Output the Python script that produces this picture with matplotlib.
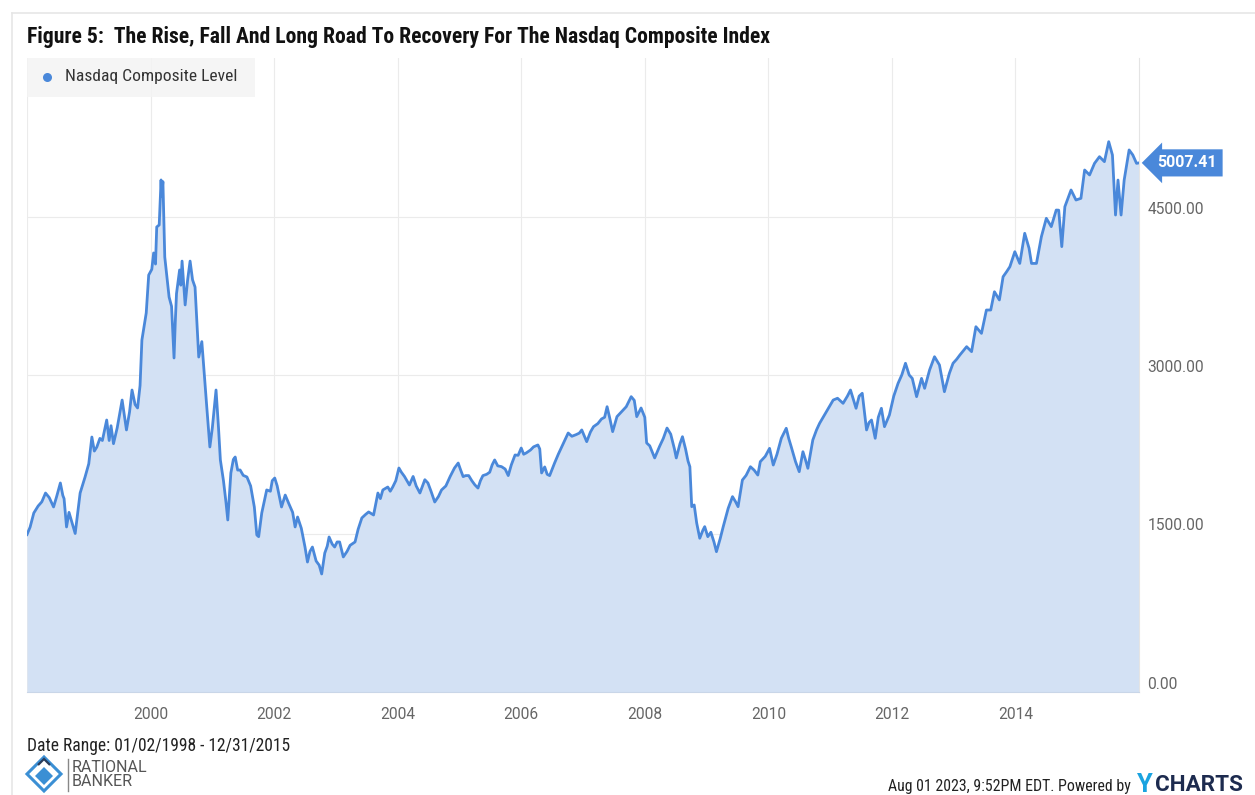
import matplotlib
matplotlib.use("Agg")
import matplotlib.pyplot as plt
from matplotlib import font_manager as fm
from matplotlib.font_manager import FontProperties
from matplotlib.patches import Polygon, Rectangle
from matplotlib.lines import Line2D

# === DATA ===
years = [
    1998.00, 1998.05, 1998.11, 1998.18, 1998.24, 1998.30, 1998.36, 1998.43, 1998.48, 1998.54,
    1998.58, 1998.60, 1998.64, 1998.68, 1998.72, 1998.78, 1998.86, 1998.94, 1999.00, 1999.05,
    1999.09, 1999.13, 1999.18, 1999.22, 1999.29, 1999.33, 1999.36, 1999.40, 1999.46, 1999.54,
    1999.61, 1999.66, 1999.70, 1999.75, 1999.79, 1999.83, 1999.86, 1999.93, 1999.97, 2000.02,
    2000.05, 2000.08, 2000.10, 2000.14, 2000.17, 2000.18, 2000.20, 2000.23, 2000.27, 2000.30,
    2000.34, 2000.38, 2000.40, 2000.42, 2000.47, 2000.49, 2000.51, 2000.56, 2000.60, 2000.64,
    2000.68, 2000.72, 2000.78, 2000.83, 2000.87, 2000.91, 2000.96, 2001.00, 2001.06, 2001.10,
    2001.13, 2001.18, 2001.22, 2001.25, 2001.30, 2001.34, 2001.37, 2001.41, 2001.45, 2001.50,
    2001.56, 2001.62, 2001.68, 2001.72, 2001.75, 2001.80, 2001.88, 2001.94, 2001.97, 2002.01,
    2002.05, 2002.12, 2002.18, 2002.24, 2002.30, 2002.34, 2002.38, 2002.44, 2002.50, 2002.54,
    2002.58, 2002.62, 2002.68, 2002.73, 2002.77, 2002.82, 2002.86, 2002.89, 2002.94, 2002.98,
    2003.02, 2003.06, 2003.12, 2003.18, 2003.23, 2003.31, 2003.36, 2003.42, 2003.48, 2003.53,
    2003.61, 2003.68, 2003.72, 2003.76, 2003.84, 2003.88, 2003.92, 2003.97, 2004.02, 2004.06,
    2004.11, 2004.19, 2004.25, 2004.30, 2004.36, 2004.44, 2004.49, 2004.54, 2004.60, 2004.66,
    2004.71, 2004.78, 2004.85, 2004.92, 2004.98, 2005.02, 2005.06, 2005.10, 2005.15, 2005.20,
    2005.25, 2005.30, 2005.34, 2005.38, 2005.44, 2005.49, 2005.53, 2005.57, 2005.62, 2005.68,
    2005.74, 2005.79, 2005.84, 2005.90, 2005.95, 2006.00, 2006.04, 2006.08, 2006.15, 2006.20,
    2006.27, 2006.30, 2006.33, 2006.38, 2006.42, 2006.46, 2006.54, 2006.60, 2006.67, 2006.76,
    2006.82, 2006.89, 2006.94, 2006.98, 2007.06, 2007.12, 2007.17, 2007.24, 2007.30, 2007.35,
    2007.39, 2007.43, 2007.48, 2007.55, 2007.62, 2007.70, 2007.78, 2007.83, 2007.87, 2007.94,
    2008.00, 2008.03, 2008.08, 2008.16, 2008.24, 2008.30, 2008.36, 2008.42, 2008.48, 2008.51,
    2008.57, 2008.61, 2008.66, 2008.70, 2008.73, 2008.76, 2008.80, 2008.84, 2008.89, 2008.94,
    2008.97, 2009.02, 2009.07, 2009.12, 2009.16, 2009.22, 2009.27, 2009.35, 2009.42, 2009.47,
    2009.51, 2009.58, 2009.64, 2009.71, 2009.77, 2009.83, 2009.87, 2009.95, 2010.02, 2010.08,
    2010.14, 2010.21, 2010.29, 2010.33, 2010.37, 2010.44, 2010.50, 2010.56, 2010.60, 2010.64,
    2010.72, 2010.78, 2010.83, 2010.94, 2011.05, 2011.12, 2011.21, 2011.28, 2011.33, 2011.42,
    2011.47, 2011.52, 2011.59, 2011.63, 2011.67, 2011.73, 2011.78, 2011.83, 2011.88, 2011.96,
    2012.03, 2012.10, 2012.16, 2012.22, 2012.28, 2012.33, 2012.40, 2012.48, 2012.53, 2012.61,
    2012.69, 2012.77, 2012.85, 2012.93, 2012.99, 2013.05, 2013.10, 2013.21, 2013.29, 2013.36,
    2013.45, 2013.53, 2013.60, 2013.66, 2013.74, 2013.80, 2013.86, 2013.91, 2013.99, 2014.07,
    2014.15, 2014.22, 2014.26, 2014.34, 2014.42, 2014.50, 2014.58, 2014.66, 2014.70, 2014.75,
    2014.80, 2014.90, 2014.98, 2015.06, 2015.12, 2015.20, 2015.28, 2015.36, 2015.44, 2015.51,
    2015.57, 2015.62, 2015.66, 2015.71, 2015.76, 2015.84, 2015.90, 2015.96, 2016.00,
]
nasdaq = [
    1490, 1560, 1694, 1760, 1800, 1883, 1840, 1751, 1850, 1978,
    1860, 1830, 1562, 1700, 1620, 1500, 1883, 2035, 2160, 2413,
    2280, 2318, 2400, 2380, 2574, 2380, 2520, 2350, 2500, 2763,
    2480, 2650, 2858, 2720, 2688, 2900, 3331, 3587, 3946, 4000,
    4155, 4050, 4401, 4420, 4846, 4694, 4830, 4117, 3900, 3738,
    3650, 3161, 3500, 3770, 3994, 3850, 4078, 3663, 3900, 4078,
    3900, 3832, 3170, 3316, 3000, 2697, 2319, 2500, 2858, 2500,
    2196, 2000, 1800, 1628, 2073, 2200, 2224, 2100, 2101, 2050,
    2035, 1950, 1750, 1486, 1470, 1694, 1912, 1900, 2000, 2025,
    1950, 1751, 1864, 1780, 1700, 1562, 1656, 1550, 1372, 1230,
    1330, 1372, 1240, 1200, 1117, 1315, 1380, 1467, 1400, 1372,
    1420, 1420, 1278, 1330, 1388, 1420, 1540, 1647, 1680, 1704,
    1675, 1883, 1830, 1912, 1940, 1900, 1940, 2000, 2120, 2080,
    2040, 1959, 2040, 1950, 1883, 2009, 1978, 1900, 1798, 1850,
    1912, 1950, 2040, 2120, 2167, 2100, 2038, 2048, 2048, 2000,
    1960, 1930, 2000, 2048, 2060, 2080, 2150, 2196, 2140, 2133,
    2110, 2048, 2150, 2243, 2240, 2309, 2250, 2262, 2290, 2320,
    2338, 2300, 2073, 2130, 2060, 2048, 2167, 2250, 2338, 2451,
    2420, 2436, 2450, 2480, 2369, 2460, 2511, 2540, 2584, 2600,
    2700, 2600, 2464, 2606, 2650, 2700, 2795, 2760, 2606, 2688,
    2600, 2357, 2330, 2215, 2325, 2400, 2498, 2440, 2300, 2215,
    2350, 2416, 2300, 2186, 2132, 1754, 1770, 1600, 1455, 1530,
    1565, 1470, 1512, 1420, 1328, 1450, 1565, 1738, 1849, 1800,
    1754, 2006, 2050, 2132, 2100, 2053, 2180, 2230, 2306, 2148,
    2250, 2401, 2496, 2400, 2322, 2180, 2085, 2274, 2200, 2117,
    2385, 2480, 2543, 2653, 2763, 2780, 2732, 2800, 2858, 2685,
    2800, 2827, 2480, 2550, 2574, 2401, 2600, 2685, 2511, 2622,
    2800, 2921, 3000, 3111, 3000, 2968, 2795, 2968, 2874, 3047,
    3173, 3095, 2842, 3015, 3111, 3150, 3189, 3268, 3221, 3457,
    3394, 3615, 3615, 3788, 3710, 3930, 3980, 4025, 4167, 4056,
    4341, 4200, 4056, 4056, 4309, 4483, 4404, 4561, 4560, 4215,
    4593, 4751, 4656, 4672, 4940, 4893, 5003, 5066, 5019, 5208,
    5082, 4514, 4845, 4514, 4845, 5130, 5082, 5003, 5007.41,
]
year_ticks = [2000, 2002, 2004, 2006, 2008, 2010, 2012, 2014]
value_ticks = [0, 1500, 3000, 4500]

title = "Figure 5:  The Rise, Fall And Long Road To Recovery For The Nasdaq Composite Index"
series_name = "Nasdaq Composite Level"
date_range = "Date Range: 01/02/1998 - 12/31/2015"
footer = "Aug 01 2023, 9:52PM EDT. Powered by"

# === COLORES ===
line_color = "#4a88da"
fill_color = "#d3e1f4"
grid_color = "#ebebeb"
tick_color = "#666666"


# === FUENTES (se busca una variante condensada) ===
def pick_font(bold):
    prefs = ["robotocondensed", "liberationsansnarrow", "dejavusanscondensed", "roboto", "liberationsans"]
    files = [f.fname for f in fm.fontManager.ttflist]
    for key in prefs:
        for path in files:
            name = path.lower().replace("-", "").replace("_", "").replace(" ", "").split("/")[-1]
            if key not in name:
                continue
            if any(k in name for k in ["italic", "oblique", "light", "thin", "black", "medium", "semi", "extra"]):
                continue
            if bold != ("bold" in name):
                continue
            if key in ("roboto", "liberationsans") and ("condensed" in name or "narrow" in name or "mono" in name):
                continue
            return path
    return None


bold_path = pick_font(True)
reg_path = pick_font(False)


def fp(bold):
    path = bold_path if bold else reg_path
    if path:
        return FontProperties(fname=path)
    return FontProperties(family="DejaVu Sans", weight="bold" if bold else "normal")


W, H = 1255, 795
fig = plt.figure(figsize=(W / 100, H / 100), dpi=100)
fig.patch.set_facecolor("white")


def fx(x):
    return x / W


def fy(y):
    return 1 - y / H


renderer = fig.canvas.get_renderer()


def fit_text(x, y, s, width_px, bold=False, color="#222222", ha="left", size=12, props=None):
    t = fig.text(fx(x), fy(y), s, fontproperties=props if props is not None else fp(bold),
                 fontsize=size, color=color, ha=ha, va="center")
    w = t.get_window_extent(renderer).width
    t.set_fontsize(size * width_px / w)
    return t


# card border
fig.add_artist(Line2D([fx(12), fx(12)], [fy(13), 0], color="#e6e6e6", lw=1.2))
fig.add_artist(Line2D([fx(12), 1], [fy(13), fy(13)], color="#e6e6e6", lw=1.2))

# === EJES ===
ax = fig.add_axes([fx(27), fy(692), fx(1139) - fx(27), fy(58) - fy(692)])
ax.set_xlim(1998.0, 2016.0)
ax.set_ylim(0, 6000)
ax.fill_between(years, nasdaq, 0, color=fill_color, lw=0, zorder=1)
ax.plot(years, nasdaq, color=line_color, lw=2.0, zorder=3, solid_joinstyle="round")

tick_font = FontProperties(family="Roboto", size=11.2)
ax.set_xticks(year_ticks)
ax.set_xticklabels([str(y) for y in year_ticks], fontproperties=tick_font)
ax.set_yticks(value_ticks)
ax.set_yticklabels([f"{v:.2f}" for v in value_ticks], va="bottom", fontproperties=tick_font)
ax.yaxis.tick_right()
ax.tick_params(axis="both", length=0, colors=tick_color)
ax.tick_params(axis="x", pad=11)
ax.tick_params(axis="y", pad=6)
ax.grid(True, color=grid_color, lw=0.8, zorder=0)
ax.axvline(1998.0, color=grid_color, lw=0.8, zorder=0)
for side in ["top", "left"]:
    ax.spines[side].set_visible(False)
ax.spines["right"].set_color("#e4e4e4")
ax.spines["bottom"].set_color("#c9d6e8")
ax.set_axisbelow(True)

# last value label
ax.annotate(f"{nasdaq[-1]:.2f}", xy=(years[-1], nasdaq[-1]), xytext=(13, 0),
            textcoords="offset points", ha="left", va="center", color="white",
            fontproperties=FontProperties(family="Roboto", weight="bold", size=11.5),
            annotation_clip=False,
            bbox=dict(boxstyle="larrow,pad=0.38", fc=line_color, ec="none"))

# legend box
fig.add_artist(Rectangle((fx(27), fy(97)), fx(255) - fx(27), fy(58) - fy(97),
                         transform=fig.transFigure, fc="#f4f4f4", ec="none", alpha=0.85, zorder=5))
fig.add_artist(Line2D([fx(47)], [fy(77)], marker="o", markersize=6.5, color=line_color,
                      markeredgewidth=0, zorder=6))
leg = fit_text(65, 77, series_name, 171, color="#333333")
leg.set_zorder(7)

# === TEXTOS ===
fit_text(27, 37, title, 741, bold=True, color="#111111", size=16)
fit_text(27, 746, date_range, 262, color="#222222")
fit_text(1131, 786, footer, 243, color="#222222", ha="right")
fit_text(1137, 785, "Y", 16, bold=True, color="#1aa3e0", size=14,
         props=FontProperties(family="Roboto", weight="bold"))
fit_text(1155, 785, "CHARTS", 88, bold=True, color="#1d2b4f", size=14,
         props=FontProperties(family="Roboto", weight="bold"))

# logo
blue = "#3b8fd4"
fig.add_artist(Polygon([(fx(44), fy(757)), (fx(61), fy(774)), (fx(44), fy(791)), (fx(27), fy(774))],
                       closed=True, transform=fig.transFigure, fc="none", ec=blue, lw=2.2))
fig.add_artist(Polygon([(fx(44), fy(767)), (fx(53), fy(776)), (fx(44), fy(785)), (fx(35), fy(776))],
                       closed=True, transform=fig.transFigure, fc=blue, ec="none"))
fig.add_artist(Polygon([(fx(38), fy(765)), (fx(44), fy(759)), (fx(50), fy(765))],
                       closed=False, transform=fig.transFigure, fc="none", ec="#2a3d5c", lw=1.6))
fig.add_artist(Line2D([fx(68), fx(68)], [fy(759), fy(791)], color="#888888", lw=1))
logo_font = FontProperties(family="Roboto", size=11.5)
fig.text(fx(72), fy(767), "RATIONAL", fontproperties=logo_font, color="#555555", va="center")
fig.text(fx(72), fy(782), "BANKER", fontproperties=logo_font, color="#555555", va="center")

fig.savefig("out.png", dpi=100)
